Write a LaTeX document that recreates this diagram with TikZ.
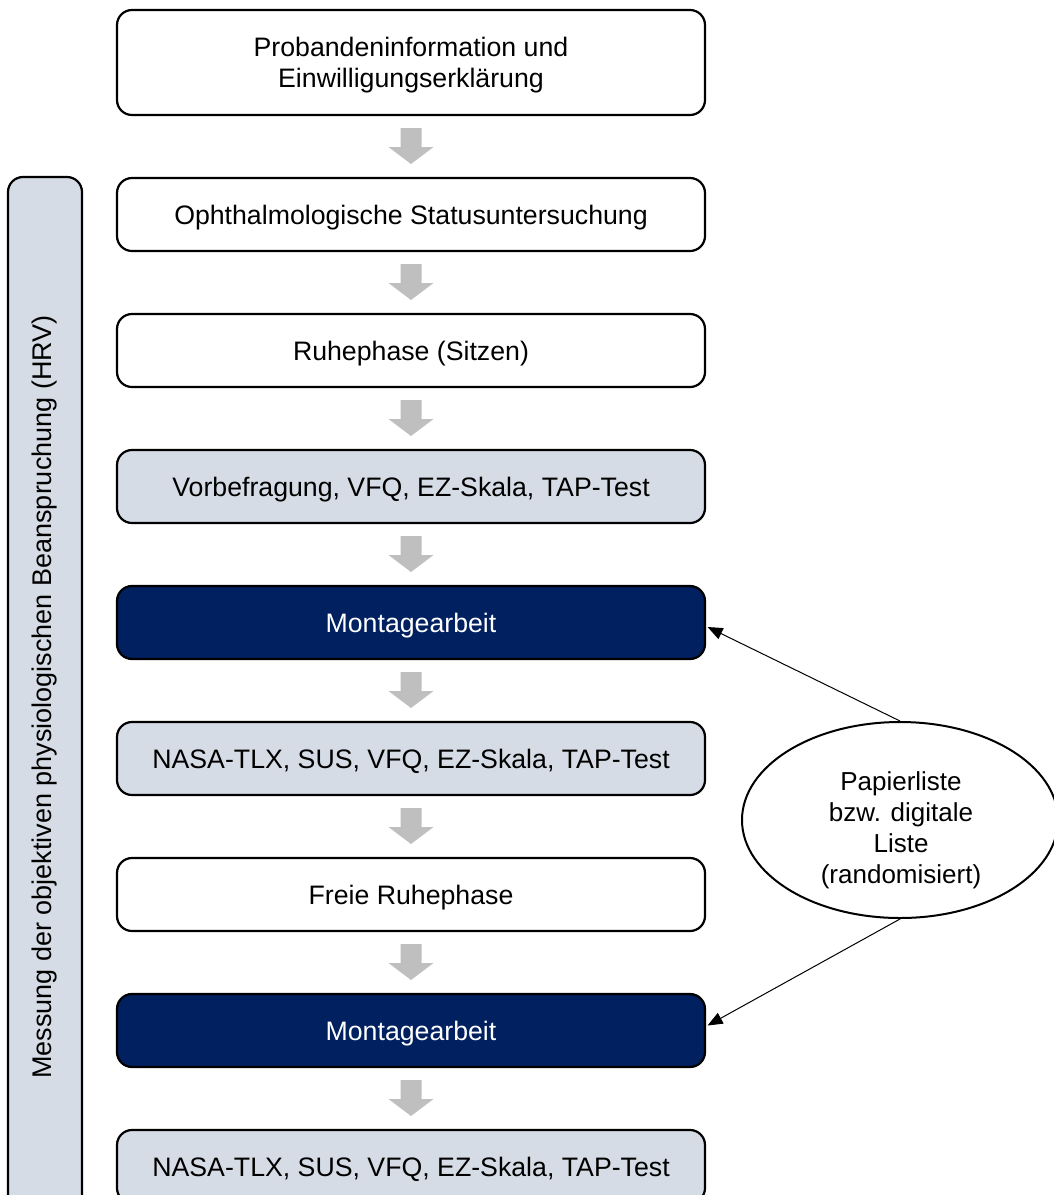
\documentclass[tikz,border=0pt]{standalone}
\usepackage{fontspec}
\setmainfont{Liberation Sans}
\usetikzlibrary{shapes.geometric,arrows.meta,calc}
\definecolor{boxgray}{HTML}{D6DCE5}
\definecolor{navy}{HTML}{002060}
\definecolor{arrowgray}{HTML}{BFBFBF}
\begin{document}
\begin{tikzpicture}[x=1pt,y=-1pt,
  every node/.style={font=\fontsize{26.7}{31}\selectfont},
  stepbox/.style={draw=black, line width=2.2pt, rounded corners=15pt,
    minimum width=588pt, minimum height=73pt, align=center, inner sep=0pt,
    text height=22pt, text depth=3pt},
  plainbox/.style={stepbox, fill=white},
  surveybox/.style={stepbox, fill=boxgray},
  taskbox/.style={stepbox, fill=navy, text=white},
  sidebar/.style={draw=black, line width=2.2pt, rounded corners=15pt,
    fill=boxgray, inner sep=0pt, align=center,
    font=\fontsize{27}{31}\selectfont},
  listnode/.style={ellipse, draw=black, line width=2pt, fill=white,
    minimum width=316pt, minimum height=196pt, inner sep=0pt},
  listtext/.style={align=center, inner sep=0pt,
    font=\fontsize{26}{31}\selectfont},
  link/.style={draw=black, line width=1pt, -{Triangle[length=15pt,width=12pt]}},
  flowfill/.style={fill=arrowgray}
]
\clip (0,0) rectangle (1054,1195);

% measurement bar on the left
\node[sidebar, rotate=90, minimum width=1040pt, minimum height=74pt] (bar) at (45,697)
  {Messung der objektiven physiologischen Beanspruchung (HRV)};

% process steps
\node[plainbox, minimum height=105pt, text height=53pt] (b1) at (411,62.5)
  {Probandeninformation und\\Einwilligungserklärung};
\node[plainbox]  (b2) at (411,214.5) {Ophthalmologische Statusuntersuchung};
\node[plainbox]  (b3) at (411,350.5) {Ruhephase (Sitzen)};
\node[surveybox] (b4) at (411,486.5) {Vorbefragung, VFQ, EZ-Skala, TAP-Test};
\node[taskbox]   (b5) at (411,622.5) {Montagearbeit};
\node[surveybox] (b6) at (411,758.5) {NASA-TLX, SUS, VFQ, EZ-Skala, TAP-Test};
\node[plainbox]  (b7) at (411,894.5) {Freie Ruhephase};
\node[taskbox]   (b8) at (411,1030.5) {Montagearbeit};
\node[surveybox] (b9) at (411,1166.5) {NASA-TLX, SUS, VFQ, EZ-Skala, TAP-Test};

% block arrows between consecutive steps
\foreach \a/\b in {b1/b2,b2/b3,b3/b4,b4/b5,b5/b6,b6/b7,b7/b8,b8/b9} {
  \coordinate (m) at ($(\a.south)!0.5!(\b.north)$);
  \fill[flowfill] ($(m)+(-10.5,-18.5)$) -- ($(m)+(10.5,-18.5)$)
    -- ($(m)+(10.5,0.5)$) -- ($(m)+(22.5,0.5)$) -- ($(m)+(0,17.5)$)
    -- ($(m)+(-22.5,0.5)$) -- ($(m)+(-10.5,0.5)$) -- cycle;
}

% task list
\node[listnode] (list) at (900,820) {};
\node[listtext] (listlabel) at (901,830)
  {Papierliste\\bzw. digitale\\Liste\\(randomisiert)};

\draw[link] (list.north) -- ($(b5.east)+(1.5,4.5)$);
\draw[link] (list.south) -- ($(b8.east)+(1.5,-5)$);
\end{tikzpicture}
\end{document}
